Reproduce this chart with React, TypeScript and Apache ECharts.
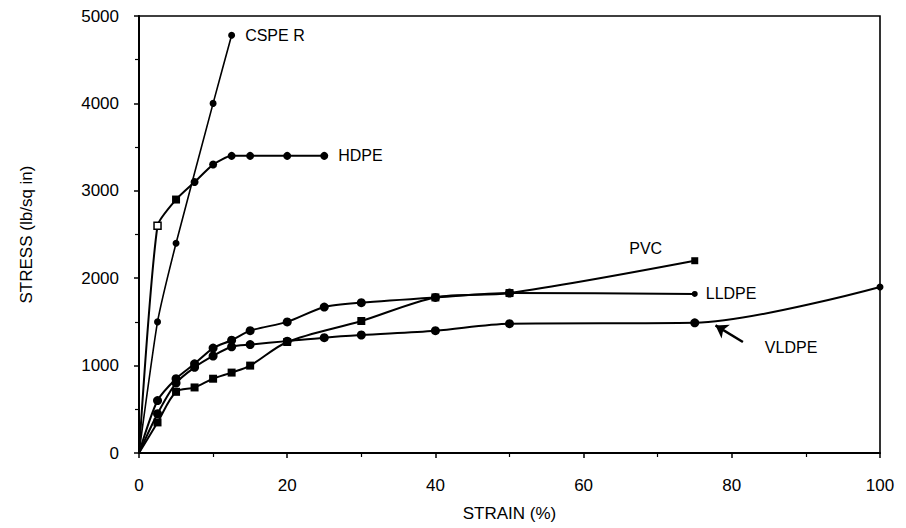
import React, { useEffect, useRef } from "react";
import * as echarts from "echarts";

const xTicks = [0, 20, 40, 60, 80, 100];
const yTicks = [0, 1000, 2000, 3000, 4000, 5000];

const cspeStrain = [0, 2.5, 5, 10, 12.5];
const cspeStress = [0, 1500, 2400, 4000, 4780];

const hdpeStrain = [0, 2.5, 5, 7.5, 10, 12.5, 15, 20, 25];
const hdpeStress = [0, 2600, 2900, 3100, 3300, 3400, 3400, 3400, 3400];

const lldpeStrain = [0, 2.5, 5, 7.5, 10, 12.5, 15, 20, 25, 30, 40, 50, 75];
const lldpeStress = [0, 600, 850, 1020, 1200, 1290, 1400, 1500, 1670, 1720, 1780, 1830, 1820];

const vldpeStrain = [0, 2.5, 5, 7.5, 10, 12.5, 15, 20, 25, 30, 40, 50, 75, 100];
const vldpeStress = [0, 450, 800, 980, 1110, 1215, 1240, 1280, 1320, 1350, 1400, 1480, 1490, 1900];

const pvcStrain = [0, 2.5, 5, 7.5, 10, 12.5, 15, 20, 30, 40, 50, 75];
const pvcStress = [0, 350, 700, 750, 850, 920, 1000, 1270, 1510, 1780, 1830, 2200];

const FONT = "Liberation Sans, Arial, sans-serif";

function pairs(xs: number[], ys: number[]) {
  return xs.map((x, i) => [x, ys[i]]);
}

export default function App() {
  const ref = useRef<HTMLDivElement>(null);
  useEffect(() => {
    if (!ref.current) return;
    const chart = echarts.init(ref.current, null, { renderer: "svg" });
    const lineStyle = { color: "#000", width: 1.6 };
    const labelBase = { show: true, color: "#000", fontFamily: FONT, fontSize: 16 };

    const hdpeData: any[] = pairs(hdpeStrain, hdpeStress).map((p, i) => {
      if (i === 1)
        return { value: p, symbol: "rect", symbolSize: 7, itemStyle: { color: "#fff", borderColor: "#000", borderWidth: 1.5 } };
      if (i === 2) return { value: p, symbol: "rect", symbolSize: 8 };
      if (i === 0) return { value: p, symbolSize: 0 };
      if (i === hdpeStrain.length - 1) return { value: p, label: { ...labelBase, position: "right", distance: 10, formatter: "HDPE" } };
      return p;
    });
    const cspeData: any[] = pairs(cspeStrain, cspeStress).map((p, i) => {
      if (i === 0) return { value: p, symbolSize: 0 };
      if (i === cspeStrain.length - 1) return { value: p, label: { ...labelBase, position: "right", distance: 10, formatter: "CSPE R" } };
      return p;
    });
    const lldpeData: any[] = pairs(lldpeStrain, lldpeStress).map((p, i) => {
      if (i === 0) return { value: p, symbolSize: 0 };
      if (i === lldpeStrain.length - 1) return { value: p, symbolSize: 6, label: { ...labelBase, position: "right", distance: 8, formatter: "LLDPE" } };
      return p;
    });
    const pvcData: any[] = pairs(pvcStrain, pvcStress).map((p, i) => {
      if (i === 0) return { value: p, symbolSize: 0 };
      if (i === pvcStrain.length - 1) return { value: p, symbolSize: 7, label: { ...labelBase, position: [-62, -17], formatter: "PVC" } };
      return p;
    });
    const vldpeData: any[] = pairs(vldpeStrain, vldpeStress).map((p, i) => {
      if (i === 0) return { value: p, symbolSize: 0 };
      if (i === vldpeStrain.length - 1) return { value: p, symbolSize: 7 };
      return p;
    });

    chart.setOption({
      animation: false,
      backgroundColor: "#fff",
      grid: { left: 139, right: 26, top: 16, bottom: 75, show: true, borderColor: "#000", borderWidth: 1.6 },
      xAxis: {
        type: "value",
        min: xTicks[0],
        max: xTicks[xTicks.length - 1],
        interval: 20,
        name: "STRAIN (%)",
        nameLocation: "middle",
        nameGap: 52,
        nameTextStyle: { color: "#000", fontFamily: FONT, fontSize: 17 },
        axisLine: { show: true, lineStyle: { color: "#000", width: 2 } },
        axisTick: { show: true, length: 5, lineStyle: { color: "#000", width: 1.5 } },
        minorTick: { show: true, splitNumber: 2, length: 4, lineStyle: { color: "#000", width: 1.2 } },
        splitLine: { show: false },
        axisLabel: { color: "#000", fontFamily: FONT, fontSize: 17, margin: 24, formatter: (v: number) => String(v) },
      },
      yAxis: {
        type: "value",
        min: yTicks[0],
        max: yTicks[yTicks.length - 1],
        interval: 1000,
        name: "STRESS (lb/sq in)",
        nameLocation: "middle",
        nameGap: 104,
        nameTextStyle: { color: "#000", fontFamily: FONT, fontSize: 17 },
        axisLine: { show: true, lineStyle: { color: "#000", width: 2 } },
        axisTick: { show: true, length: 5, lineStyle: { color: "#000", width: 1.5 } },
        minorTick: { show: true, splitNumber: 2, length: 4, lineStyle: { color: "#000", width: 1.2 } },
        splitLine: { show: false },
        axisLabel: { color: "#000", fontFamily: FONT, fontSize: 17, margin: 20, formatter: (v: number) => String(v) },
      },
      series: [
        {
          name: "CSPE R", type: "line", data: cspeData, smooth: 0.15, symbol: "circle", symbolSize: 7,
          lineStyle, itemStyle: { color: "#000" },
        },
        {
          name: "HDPE", type: "line", data: hdpeData, smooth: 0.2, symbol: "circle", symbolSize: 8,
          lineStyle: { color: "#000", width: 2 }, itemStyle: { color: "#000" },
        },
        {
          name: "LLDPE", type: "line", data: lldpeData, smooth: 0.25, symbol: "circle", symbolSize: 9,
          lineStyle: { color: "#000", width: 2 }, itemStyle: { color: "#000" },
        },
        {
          name: "VLDPE", type: "line", data: vldpeData, smooth: 0.3, symbol: "circle", symbolSize: 9,
          lineStyle: { color: "#000", width: 2 }, itemStyle: { color: "#000" },
          markLine: {
            silent: true,
            symbol: ["none", "arrow"],
            symbolSize: 12,
            lineStyle: { color: "#000", width: 2.5, type: "solid" },
            label: { show: false },
            data: [[{ coord: [81.5, 1270] }, { coord: [77.8, 1460] }]],
          },
          markPoint: {
            symbol: "circle",
            symbolSize: 0,
            data: [{ coord: [88, 1210], label: { ...labelBase, formatter: "VLDPE", position: "inside" } }],
          },
        },
        {
          name: "PVC", type: "line", data: pvcData, smooth: 0.3, symbol: "rect", symbolSize: 8,
          lineStyle: { color: "#000", width: 2 }, itemStyle: { color: "#000" },
        },
      ],
    });
    return () => chart.dispose();
  }, []);
  return <div ref={ref} style={{ width: 906, height: 528, position: "absolute", left: 0, top: 0, background: "#fff" }} />;
}
